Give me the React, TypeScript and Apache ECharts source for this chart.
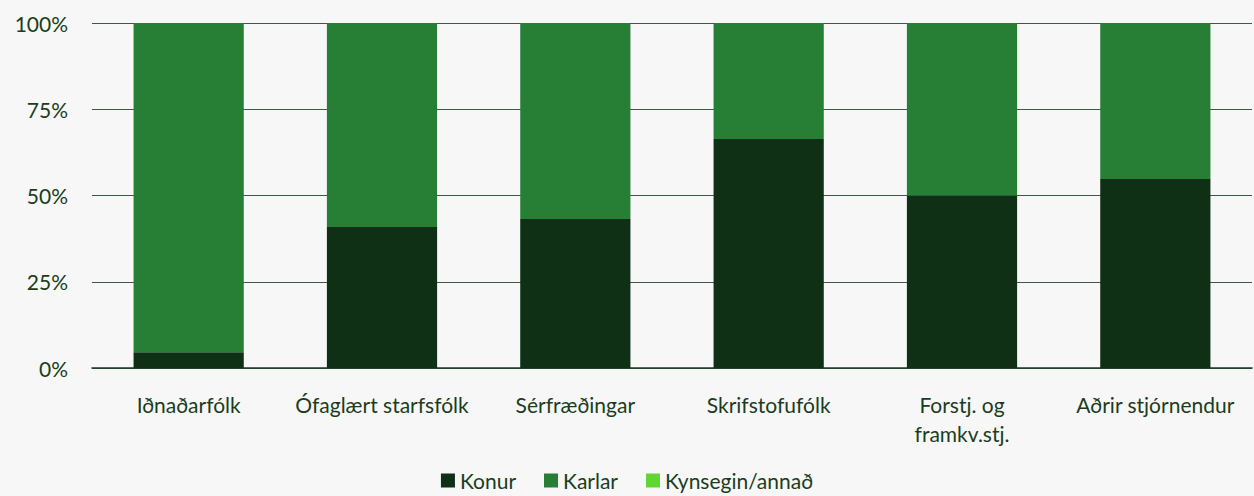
import React, { useEffect, useRef } from "react";
import * as echarts from "echarts";

const categories = [
  "Iðnaðarfólk",
  "Ófaglært starfsfólk",
  "Sérfræðingar",
  "Skrifstofufólk",
  "Forstj. og\nframkv.stj.",
  "Aðrir stjórnendur",
];
const konur = [4.6, 40.9, 43.2, 66.4, 50, 54.8];
const karlar = [95.4, 59.1, 56.8, 33.6, 50, 45.2];
const kynsegin = [0, 0, 0, 0, 0, 0];
const yTicks = [0, 25, 50, 75, 100];

const textColor = "#1a3d20";
const font = "Lato";

export default function App() {
  const ref = useRef<HTMLDivElement>(null);
  useEffect(() => {
    document.body.style.margin = "0";
    const chart = echarts.init(ref.current!, null, { renderer: "svg" });
    chart.setOption({
      animation: false,
      backgroundColor: "#f7f7f7",
      textStyle: { fontFamily: font, color: textColor },
      grid: { left: 92, right: 2, top: 23, bottom: 128 },
      legend: {
        bottom: 0,
        left: "center",
        itemWidth: 14,
        itemHeight: 14,
        itemGap: 28,
        icon: "rect",
        textStyle: { fontSize: 21, color: textColor, fontFamily: font },
        data: ["Konur", "Karlar", "Kynsegin/annað"],
      },
      xAxis: {
        type: "category",
        data: categories,
        axisTick: { show: false },
        axisLine: { lineStyle: { color: "#1d3d22", width: 1.5 } },
        axisLabel: {
          fontSize: 21,
          color: textColor,
          margin: 22,
          lineHeight: 29,
          interval: 0,
        },
      },
      yAxis: {
        type: "value",
        min: 0,
        max: 100,
        interval: 25,
        axisLabel: {
          fontSize: 21,
          color: textColor,
          margin: 24,
          formatter: (v: number) => (yTicks.includes(v) ? v + "%" : ""),
        },
        splitLine: { lineStyle: { color: "#3b5a40", width: 1 } },
      },
      series: [
        { name: "Konur", type: "bar", stack: "a", data: konur, barWidth: "57%", itemStyle: { color: "#0f3015" } },
        { name: "Karlar", type: "bar", stack: "a", data: karlar, barWidth: "57%", itemStyle: { color: "#277f36" } },
        { name: "Kynsegin/annað", type: "bar", stack: "a", data: kynsegin, barWidth: "57%", itemStyle: { color: "#5fd631" } },
      ],
    });
    return () => chart.dispose();
  }, []);
  return <div ref={ref} style={{ width: 1254, height: 496 }} />;
}
